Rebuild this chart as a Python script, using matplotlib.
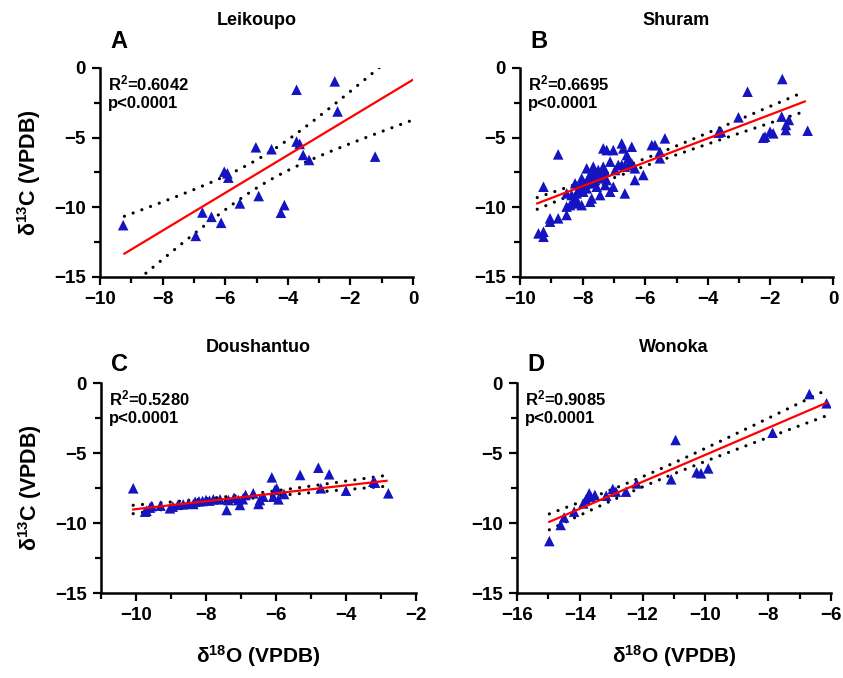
import matplotlib
matplotlib.use("Agg")
import matplotlib.pyplot as plt
import numpy as np
from matplotlib.ticker import MultipleLocator

plt.rcParams["font.family"] = ["Liberation Sans", "DejaVu Sans"]
plt.rcParams["font.weight"] = "bold"
plt.rcParams["mathtext.fontset"] = "custom"
plt.rcParams["mathtext.rm"] = "Liberation Sans:bold"
plt.rcParams["mathtext.bf"] = "Liberation Sans:bold"
plt.rcParams["mathtext.it"] = "Liberation Sans:bold"

BLUE = "#1414C0"
RED = "#FF0000"

# ---- data ----
leik_o = [-9.26, -2.50, -3.72, -2.41, -1.21, -3.72, -3.62, -3.51, -3.32, -5.02, -4.52,
          -6.03, -5.93, -5.90, -5.53, -4.93, -4.11, -4.22, -6.73, -6.44, -6.13, -6.94]
leik_c = [-11.28, -0.96, -1.56, -3.12, -6.36, -5.28, -5.45, -6.24, -6.60, -5.69, -5.83,
          -7.44, -7.56, -7.87, -9.72, -9.19, -9.84, -10.39, -10.37, -10.68, -11.11, -12.05]

shur_o = [-9.41, -9.25, -9.25, -9.04, -9.04, -8.78, -8.51, -8.51, -8.40, -8.30, -8.24,
          -8.19, -8.14, -8.08, -8.03, -7.98, -7.92, -7.87, -7.82, -7.76, -7.71, -7.66,
          -7.60, -7.55, -7.50, -7.44, -7.39, -7.34, -7.28, -7.23, -7.34, -7.23, -7.02,
          -6.75, -6.70, -6.43, -6.59, -6.54, -7.12, -6.96, -6.86, -6.75, -6.65, -6.54,
          -6.43, -6.33, -6.33, -6.65, -7.12, -7.02, -7.44, -7.71, -7.76, -8.03, -8.51,
          -9.25, -8.78, -5.79, -5.69, -5.37, -5.53, -5.53, -6.06, -7.71, -7.87, -7.55,
          -7.28, -8.24, -8.14, -8.35, -3.58, -3.66, -3.02, -2.73, -1.62, -2.17, -2.23,
          -2.01, -1.91, -1.64, -1.41, -1.50, -1.51, -0.81]
shur_c = [-11.87, -11.75, -12.11, -10.79, -11.03, -10.79, -10.55, -9.95, -9.84, -9.60, -9.24,
          -9.00, -8.76, -8.40, -7.92, -8.88, -8.28, -7.20, -7.92, -7.68, -7.44, -7.08,
          -8.04, -7.68, -7.32, -7.92, -7.68, -7.08, -7.44, -8.04, -5.77, -5.89, -5.89,
          -5.41, -5.77, -5.65, -6.25, -6.48, -6.72, -7.32, -6.96, -6.96, -7.08, -6.96,
          -6.84, -7.20, -8.04, -9.00, -8.88, -8.52, -9.12, -9.36, -9.60, -9.84, -9.00,
          -8.52, -6.20, -5.53, -5.53, -5.05, -6.01, -6.48, -7.68, -8.28, -8.64, -8.52,
          -8.40, -8.28, -9.72, -9.12, -4.57, -4.64, -3.54, -1.70, -0.79, -4.93, -5.00,
          -4.57, -4.69, -3.49, -3.73, -4.09, -4.45, -4.50]

dous_o = [-10.08, -9.74, -9.70, -9.55, -9.30, -9.03, -8.95, -8.65, -8.50, -8.36, -8.31,
          -8.10, -8.00, -7.79, -7.60, -7.41, -7.36, -7.08, -7.03, -6.87, -6.65, -6.50,
          -6.46, -6.36, -6.12, -6.08, -6.03, -5.98, -5.93, -5.77, -5.31, -4.79, -4.72,
          -4.48, -4.00, -3.22, -3.17, -2.79, -9.60, -8.80, -8.20, -7.90, -7.20, -6.95]
dous_c = [-7.52, -9.19, -9.12, -8.79, -8.76, -8.95, -8.83, -8.67, -8.60, -8.64, -8.48,
          -8.43, -8.36, -8.31, -8.31, -9.07, -8.36, -8.36, -8.71, -8.00, -7.88, -8.64,
          -8.36, -8.12, -6.74, -8.12, -7.64, -7.52, -8.31, -7.93, -6.57, -6.05, -7.52,
          -6.52, -7.69, -7.05, -7.12, -7.88, -8.90, -8.70, -8.45, -8.40, -8.20, -8.30]

wono_o = [-14.97, -14.61, -14.50, -14.18, -13.89, -13.80, -13.70, -13.65, -13.52, -13.16,
          -12.95, -12.85, -12.53, -12.19, -11.09, -10.95, -10.28, -10.14, -9.91, -7.86,
          -6.69, -6.14]
wono_c = [-11.29, -10.14, -9.60, -9.19, -8.60, -8.31, -7.88, -8.12, -8.00, -8.05,
          -7.57, -7.76, -7.76, -7.17, -6.88, -4.07, -6.38, -6.45, -6.10, -3.55,
          -0.79, -1.45]

# regression lines as printed in the figure (slope, intercept, x extent)
fit_slope = [1.354, 0.856, 0.283, 0.963]
fit_icpt = [-0.84, -1.63, -6.18, 4.50]
fit_x0 = [-9.22, -9.45, -10.08, -14.97]
fit_x1 = [0.0, -0.90, -2.84, -6.14]

titles = ["Leikoupo", "Shuram", "Doushantuo", "Wonoka"]
letters = ["A", "B", "C", "D"]
r2_text = ["0.6042", "0.6695", "0.5280", "0.9085"]
xlims = [(-10, 0), (-10, 0), (-11, -2), (-16, -6)]

panels = [(leik_o, leik_c), (shur_o, shur_c), (dous_o, dous_c), (wono_o, wono_c)]

W, H = 843, 678
fig = plt.figure(figsize=(W / 100, H / 100), dpi=100, facecolor="white")
boxes = [(100, 68, 313, 209), (520, 68, 313, 209), (101, 383, 315, 210), (517, 383, 314, 210)]
title_pad = [31, 31, 22, 22]
letter_y = [1.125, 1.125, 1.088, 1.088]

for i, (x, y) in enumerate(panels):
    l, t, w, h = boxes[i]
    ax = fig.add_axes([l / W, 1 - (t + h) / H, w / W, h / H])
    x = np.array(x)
    y = np.array(y)

    # 95% confidence band around the regression line
    n = len(x)
    slope, icpt = fit_slope[i], fit_icpt[i]
    resid = y - (slope * x + icpt)
    df = n - 2
    s = np.sqrt(np.sum(resid ** 2) / df)
    tval = 1.96 + 2.4 / df
    sxx = np.sum((x - x.mean()) ** 2)
    xs = np.linspace(fit_x0[i], fit_x1[i], 200)
    yh = slope * xs + icpt
    band = tval * s * np.sqrt(1 / n + (xs - x.mean()) ** 2 / sxx)

    for sign in (1, -1):
        ax.plot(xs, yh + sign * band, color="black", lw=2.3, ls=(0, (0.01, 2.9)),
                dash_capstyle="round", zorder=2)
    ax.scatter(x, y, marker="^", s=58, color=BLUE, edgecolors="none", zorder=3)
    ax.plot(xs, yh, color=RED, lw=1.6, zorder=4)

    ax.set_xlim(*xlims[i])
    ax.set_ylim(-15, 0)
    ax.xaxis.set_major_locator(MultipleLocator(2))
    ax.xaxis.set_minor_locator(MultipleLocator(1))
    ax.yaxis.set_major_locator(MultipleLocator(5))
    ax.yaxis.set_minor_locator(MultipleLocator(2.5))
    ax.tick_params(which="major", length=6, width=1.6, pad=4)
    ax.tick_params(which="minor", length=4, width=1.6)
    for lab in ax.get_xticklabels() + ax.get_yticklabels():
        lab.set_fontweight("bold")
        lab.set_fontsize(13.5)
    for sp in ["top", "right"]:
        ax.spines[sp].set_visible(False)
    for sp in ["left", "bottom"]:
        ax.spines[sp].set_linewidth(1.8)

    ax.set_title(titles[i], fontsize=13, fontweight="bold", pad=title_pad[i])
    ax.text(0.032, letter_y[i], letters[i], transform=ax.transAxes, fontsize=17,
            fontweight="bold", ha="left", va="center")
    ax.text(0.026, 0.975, "R$^{2}$=" + r2_text[i] + "\np<0.0001", transform=ax.transAxes,
            fontsize=12, fontweight="bold", ha="left", va="top", linespacing=1.2)

    if i % 2 == 0:
        ax.set_ylabel("δ$^{13}$C (VPDB)", fontsize=15.5, fontweight="bold", labelpad=8)
    if i >= 2:
        ax.set_xlabel("δ$^{18}$O (VPDB)", fontsize=15, fontweight="bold", labelpad=14)

fig.savefig("out.png", dpi=100, facecolor="white")
